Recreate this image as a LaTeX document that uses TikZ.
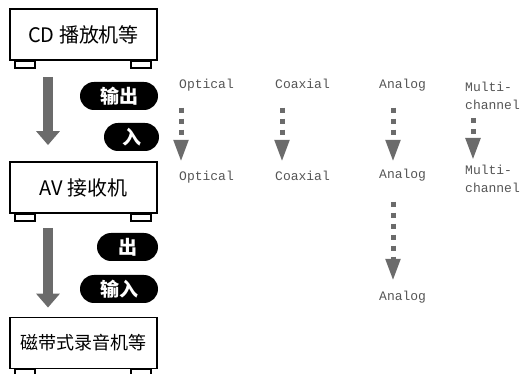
\documentclass[tikz,border=0pt]{standalone}
\usepackage{fontspec}
\setmainfont{Liberation Sans}
\newfontfamily\cjkfont{Noto Sans CJK SC}
\newfontfamily\sigfont{Liberation Mono}
\usetikzlibrary{arrows.meta,positioning,shapes.misc}
\definecolor{arrowgray}{HTML}{6B6B6B}
\definecolor{labelgray}{HTML}{555555}

\tikzset{
  devbox/.style={draw,line width=1.8pt,fill=white,minimum width=147pt,minimum height=51pt,
    inner sep=0pt,font=\cjkfont\fontsize{20}{24}\selectfont},
  foot/.style={draw,line width=1.8pt,fill=white},
  pill/.style={rounded rectangle,fill=black,text=white,minimum height=28pt,inner sep=0pt,
    font=\cjkfont\bfseries\fontsize{19}{22}\selectfont},
  sig/.style={text=labelgray,inner sep=0pt,font=\sigfont\fontsize{13}{18}\selectfont},
  oneline/.style={text height=9pt,text depth=3pt,anchor=west},
  fatarrow/.style={draw=arrowgray,line width=10pt,-{Triangle[length=14pt,width=23pt]}},
  dotarrow/.style={draw=arrowgray,line width=5pt,dash pattern=on 5pt off 6pt,
    -{Triangle[length=22pt,width=14pt]}},
}

\begin{document}
\begin{tikzpicture}[x=1pt,y=-1pt]
  \useasboundingbox (0,0) rectangle (523,374);

  % devices
  \node[devbox] (cd) at (83.5,34.5) {CD 播放机等};
  \node[devbox] (av) at (83.5,187.5) {AV 接收机};
  \node[devbox,font=\cjkfont\fontsize{18}{22}\selectfont] (tape) at (83.5,343) {磁带式录音机等};
  \foreach \b in {cd,av,tape} {
    \draw[foot] ([xshift=6pt]\b.south west) rectangle ++(20,7);
    \draw[foot] ([xshift=-7pt]\b.south east) rectangle ++(-20,7);
  }

  % signal flow
  \draw[fatarrow] ([xshift=-35.5pt,yshift=-16pt]cd.south) -- ([xshift=-35.5pt,yshift=16pt]av.north);
  \draw[fatarrow] ([xshift=-35.5pt,yshift=-14pt]av.south) -- ([xshift=-35.5pt,yshift=9pt]tape.north);

  \node[pill,minimum width=78pt] (out1) at (119,96) {输出};
  \node[pill,minimum width=55pt] (in1) at (131.5,137) {入};
  \node[pill,minimum width=61pt] (out2) at (127.5,247) {出};
  \node[pill,minimum width=78pt] (in2) at (119,289) {输入};

  % connection types
  \node[sig,oneline] (opt1) at (179,86) {Optical};
  \node[sig,oneline] (opt2) at (179,178) {Optical};
  \node[sig,oneline] (coa1) at (275,86) {Coaxial};
  \node[sig,oneline] (coa2) at (275,178) {Coaxial};
  \node[sig,oneline] (ana1) at (379,86) {Analog};
  \node[sig,oneline] (ana2) at (379,176) {Analog};
  \node[sig,oneline] (ana3) at (379,298) {Analog};
  \node[sig,align=left,anchor=north west] (mul1) at (465,82) {Multi-\\channel};
  \node[sig,align=left,anchor=north west] (mul2) at (465,165) {Multi-\\channel};

  \draw[dotarrow] ([xshift=2pt,yshift=-15.5pt]opt1.south west) -- ([xshift=2pt,yshift=10pt]opt2.north west);
  \draw[dotarrow] ([xshift=7pt,yshift=-15.5pt]coa1.south west) -- ([xshift=7pt,yshift=10pt]coa2.north west);
  \draw[dotarrow] ([xshift=14pt,yshift=-15.5pt]ana1.south west) -- ([xshift=14pt,yshift=8pt]ana2.north west);
  \draw[dotarrow] ([xshift=14pt,yshift=-19.5pt]ana2.south west) -- ([xshift=14pt,yshift=11pt]ana3.north west);
  \draw[dotarrow] ([xshift=8pt,yshift=-8pt]mul1.south west) -- ([xshift=8pt,yshift=5pt]mul2.north west);
\end{tikzpicture}
\end{document}
